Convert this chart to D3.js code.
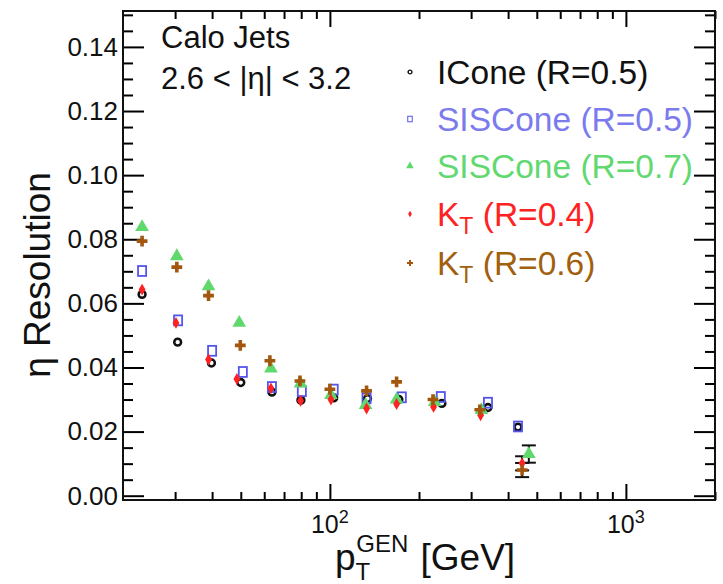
<!DOCTYPE html>
<html>
<head>
<meta charset="utf-8">
<script src="https://cdn.jsdelivr.net/npm/d3@7"></script>
<style>
  body { margin: 0; background: #fff; }
  text { font-family: "Liberation Sans", Arial, sans-serif; }
</style>
</head>
<body>
<svg id="chart" width="723" height="584"></svg>
<script>
// values (pT in GeV, eta resolution)
const iconePt  = [23.2, 30.6, 39.8, 50.0, 63.7, 79.8, 103, 134, 171, 239, 342, 432];
const iconeRes = [0.0628, 0.0479, 0.0414, 0.0353, 0.0323, 0.0298, 0.0305, 0.0303, 0.0300, 0.0288, 0.0275, 0.0214];

const sis5Pt  = [23.2, 30.7, 40.0, 50.8, 63.7, 80.4, 103, 133, 175, 237, 342, 432];
const sis5Res = [0.0701, 0.0547, 0.0452, 0.0386, 0.0339, 0.0326, 0.0331, 0.0304, 0.0307, 0.0308, 0.0290, 0.0216];

const sis7Pt  = [23.2, 30.4, 38.9, 49.4, 63.2, 79.6, 100.8, 132, 168, 226, 325, 470];
const sis7Res = [0.0838, 0.0747, 0.0653, 0.0539, 0.0397, 0.0350, 0.0314, 0.0283, 0.0300, 0.0292, 0.0267, 0.0130];

const kt4Pt  = [23.2, 30.2, 38.9, 48.5, 63.2, 79.6, 100.8, 133, 168, 224, 323, 446];
const kt4Res = [0.0643, 0.0539, 0.0425, 0.0364, 0.0335, 0.0296, 0.0300, 0.0272, 0.0286, 0.0277, 0.0251, 0.0101];

const kt6Pt  = [23.2, 30.4, 38.9, 49.8, 62.7, 79.2, 100, 133, 168, 223, 321, 446];
const kt6Res = [0.0794, 0.0713, 0.0624, 0.0469, 0.0421, 0.0358, 0.0332, 0.0327, 0.0355, 0.0300, 0.0268, 0.0080];

// only the last bins have visible error bars
const lastErr = { sis7: 0.0027, kt4: 0.0022, kt6: 0.0022 };

const yMajor = [0, 0.02, 0.04, 0.06, 0.08, 0.10, 0.12, 0.14];
const xMajor = [100, 1000];
const xMinor = [30, 40, 50, 60, 70, 80, 90, 200, 300, 400, 500, 600, 700, 800, 900, 2000];

const svg = d3.select('#chart');
const pLeft = 123, pRight = 715, pTop = 11, pBottom = 500;

const x = d3.scaleLog().domain([20, 2000]).range([pLeft, pRight]);
const y = d3.scaleLinear().domain([-0.00134, 0.1512]).range([pBottom, pTop]);

const yMinor = d3.range(0, 0.151, 0.005).filter(v => !yMajor.some(m => Math.abs(m - v) < 1e-9));

// axes, ROOT style ticks pointing inwards
function clean(g) { g.select('.domain').remove(); g.selectAll('line').attr('stroke-width', 2); }

svg.append('g').attr('transform', `translate(${pLeft},0)`)
  .call(d3.axisLeft(y).tickValues(yMajor).tickSize(-21).tickPadding(5).tickFormat(d3.format('.2f')))
  .call(clean)
  .selectAll('text').attr('font-size', 26).attr('fill', '#111').attr('font-family', 'Liberation Sans');
svg.append('g').attr('transform', `translate(${pLeft},0)`)
  .call(d3.axisLeft(y).tickValues(yMinor).tickSize(-10).tickFormat(''))
  .call(clean);
svg.append('g').attr('transform', `translate(${pRight},0)`)
  .call(d3.axisRight(y).tickValues(yMajor).tickSize(-21).tickFormat(''))
  .call(clean);
svg.append('g').attr('transform', `translate(${pRight},0)`)
  .call(d3.axisRight(y).tickValues(yMinor).tickSize(-10).tickFormat(''))
  .call(clean);

svg.append('g').attr('transform', `translate(0,${pBottom})`)
  .call(d3.axisBottom(x).tickValues(xMajor).tickSize(-16).tickFormat(''))
  .call(clean);
svg.append('g').attr('transform', `translate(0,${pBottom})`)
  .call(d3.axisBottom(x).tickValues(xMinor).tickSize(-8).tickFormat(''))
  .call(clean);
svg.append('g').attr('transform', `translate(0,${pTop})`)
  .call(d3.axisTop(x).tickValues(xMajor).tickSize(-16).tickFormat(''))
  .call(clean);
svg.append('g').attr('transform', `translate(0,${pTop})`)
  .call(d3.axisTop(x).tickValues(xMinor).tickSize(-8).tickFormat(''))
  .call(clean);

// frame
svg.append('rect')
  .attr('x', pLeft).attr('y', pTop)
  .attr('width', pRight - pLeft).attr('height', pBottom - pTop)
  .attr('fill', 'none').attr('stroke', '#111').attr('stroke-width', 2);

// x tick labels 10^2, 10^3
xMajor.forEach(v => {
  const t = svg.append('text')
    .attr('x', x(v)).attr('y', pBottom + 33)
    .attr('text-anchor', 'middle').attr('font-size', 25).attr('fill', '#111');
  t.append('tspan').text('10');
  t.append('tspan').attr('dy', -10).attr('font-size', 18).text(Math.log10(v));
});

// axis titles
const xt = svg.append('text')
  .attr('x', 335).attr('y', 570)
  .attr('font-size', 37).attr('fill', '#111');
xt.append('tspan').text('p');
xt.append('tspan').attr('font-size', 24).attr('dy', 10).text('T');
xt.append('tspan').attr('font-size', 24).attr('dy', -28).attr('dx', -14).text('GEN');
xt.append('tspan').attr('dy', 18).attr('dx', 2).text(' [GeV]');

svg.append('text')
  .attr('transform', 'translate(50,275) rotate(-90)')
  .attr('text-anchor', 'middle').attr('font-size', 37).attr('fill', '#111')
  .text('η Resolution');

// labels in the corner
svg.append('text').attr('x', 161).attr('y', 48).attr('font-size', 31).attr('fill', '#111').text('Calo Jets');
svg.append('text').attr('x', 161).attr('y', 89).attr('font-size', 31).attr('fill', '#111').text('2.6 < |η| < 3.2');

// clipped red bit at the very top
svg.append('text').attr('x', 552).attr('y', -6).attr('font-size', 28).attr('fill', '#e00').text('y');

const series = [
  { key: 'icone', label: 'ICone (R=0.5)', pt: iconePt, res: iconeRes, color: '#111', text: '#111', shape: 'circle' },
  { key: 'sis5', label: 'SISCone (R=0.5)', pt: sis5Pt, res: sis5Res, color: '#5555ee', text: '#7b7bee', shape: 'square' },
  { key: 'sis7', label: 'SISCone (R=0.7)', pt: sis7Pt, res: sis7Res, color: '#5fd86c', text: '#62d871', shape: 'triangle' },
  { key: 'kt4', label: 'K', sub: 'T', rest: ' (R=0.4)', pt: kt4Pt, res: kt4Res, color: '#f22', text: '#f22', shape: 'diamond' },
  { key: 'kt6', label: 'K', sub: 'T', rest: ' (R=0.6)', pt: kt6Pt, res: kt6Res, color: '#a2560e', text: '#a2600f', shape: 'cross' }
];

function marker(g, s, size) {
  if (s.shape === 'circle') {
    g.append('circle').attr('r', size * 0.38).attr('fill', 'none').attr('stroke', s.color).attr('stroke-width', size * 0.28);
  } else if (s.shape === 'square') {
    g.append('rect').attr('x', -size * 0.45).attr('y', -size * 0.55).attr('width', size * 0.9).attr('height', size * 1.1)
      .attr('fill', 'none').attr('stroke', s.color).attr('stroke-width', size * 0.2);
  } else if (s.shape === 'triangle') {
    g.append('path').attr('d', d3.symbol(d3.symbolTriangle, size * size * 1.0)()).attr('fill', s.color);
  } else if (s.shape === 'diamond') {
    g.append('path').attr('d', d3.symbol(d3.symbolDiamond, size * size * 0.5)()).attr('fill', s.color);
  } else {
    g.append('path').attr('d', d3.symbol(d3.symbolCross, size * size * 0.8)()).attr('fill', s.color);
  }
}

// error bars for the last bins
series.forEach(s => {
  const e = lastErr[s.key];
  if (!e) return;
  const n = s.pt.length - 1;
  const cx = x(s.pt[n]);
  const g = svg.append('g').attr('stroke', '#111').attr('stroke-width', 2);
  g.append('line').attr('x1', cx).attr('x2', cx).attr('y1', y(s.res[n] - e)).attr('y2', y(s.res[n] + e));
  [s.res[n] - e, s.res[n] + e].forEach(v => {
    g.append('line').attr('x1', cx - 7).attr('x2', cx + 7).attr('y1', y(v)).attr('y2', y(v));
  });
});

// points
series.forEach(s => {
  svg.append('g').selectAll('g')
    .data(s.pt.map((p, i) => [p, s.res[i]]))
    .join('g')
    .attr('transform', d => `translate(${x(d[0])},${y(d[1])})`)
    .each(function () { marker(d3.select(this), s, 9); });
});

// legend
const legY = [72, 119, 166, 214, 263];
series.forEach((s, i) => {
  const g = svg.append('g').attr('transform', `translate(410,${legY[i]})`);
  marker(g, s, 5);
  const t = svg.append('text').attr('x', 437).attr('y', legY[i] + 12)
    .attr('font-size', 33.5).attr('fill', s.text);
  t.append('tspan').text(s.label);
  if (s.sub) {
    t.append('tspan').attr('font-size', 23).attr('dy', 8).text(s.sub);
    t.append('tspan').attr('dy', -8).text(s.rest);
  }
});
</script>
</body>
</html>
